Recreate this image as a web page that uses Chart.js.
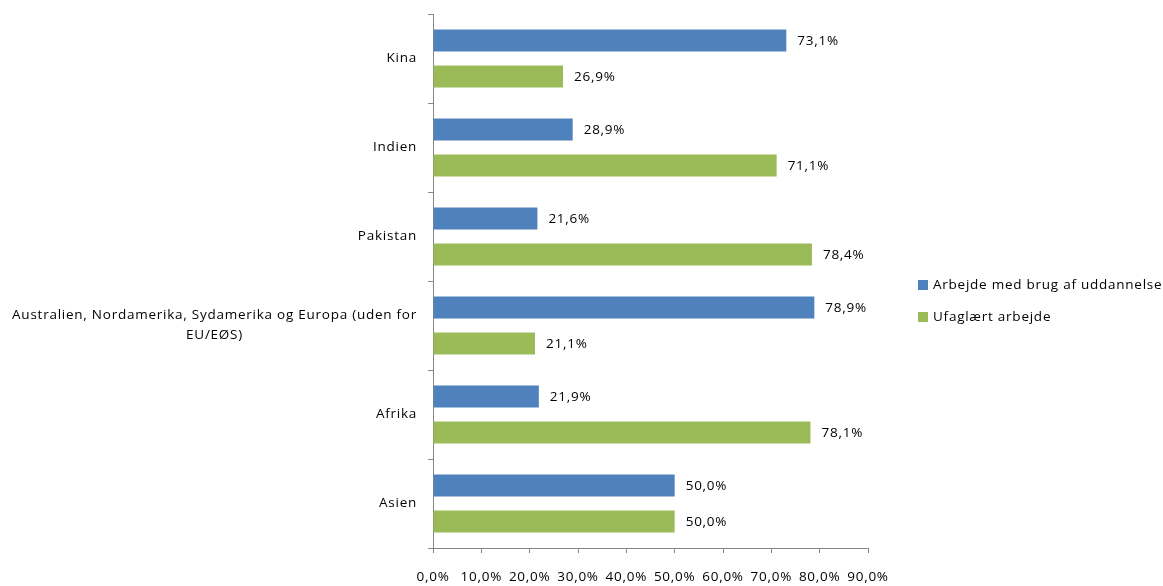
<!DOCTYPE html>
<html>
<head>
<meta charset="utf-8">
<script src="https://cdn.jsdelivr.net/npm/chart.js@4.4.1/dist/chart.umd.min.js"></script>
<style>
  html, body { margin: 0; padding: 0; background: #fff; }
  #wrap { width: 1163px; height: 586px; }
</style>
</head>
<body>
<div id="wrap"><canvas id="grafUdd"></canvas></div>
<script>
// kategorier og værdier
const kategorier = [
    ["Kina"],
    ["Indien"],
    ["Pakistan"],
    ["Australien, Nordamerika, Sydamerika og Europa (uden for", "EU/EØS)"],
    ["Afrika"],
    ["Asien"]
];
const serieNavne = ["Arbejde med brug af uddannelse", "Ufaglært arbejde"];
const medUdd = [73.1, 28.9, 21.6, 78.9, 21.9, 50.0];
const ufaglaert = [26.9, 71.1, 78.4, 21.1, 78.1, 50.0];
const farver = ["#4F81BD", "#9BBB59"];
const xMax = 90;
const xStep = 10;

const fontNavn = "'Open Sans', sans-serif";
const fontStr = 13.5;
const spacing = "0.75px";
const axisFarve = "#868686";

function fmtPct(v) {
    return v.toFixed(1).replace(".", ",") + "%";
}

// tegner y-labels, værdi-labels og legenden
const tekstPlugin = {
    id: "tekstPlugin",
    beforeDraw(chart) {
        // lidt bredere tekst, som i originalen
        chart.ctx.letterSpacing = spacing;
    },
    afterDraw(chart) {
        const ctx = chart.ctx;
        const yScale = chart.scales.y;
        const area = chart.chartArea;
        ctx.save();
        ctx.letterSpacing = spacing;
        ctx.font = fontStr + "px " + fontNavn;
        ctx.fillStyle = "#000";
        ctx.textBaseline = "middle";

        // kategori-labels (flere linjer centreres inden for blokken)
        const lh = 20;
        for (let i = 0; i < kategorier.length; i++) {
            const lines = kategorier[i];
            const yc = yScale.getPixelForValue(i);
            let maxW = 0;
            lines.forEach(l => { maxW = Math.max(maxW, ctx.measureText(l).width); });
            const right = area.left - 16;
            const cx = right - maxW / 2;
            ctx.textAlign = "center";
            for (let k = 0; k < lines.length; k++) {
                ctx.fillText(lines[k], cx, yc + (k - (lines.length - 1) / 2) * lh);
            }
        }

        // værdi-labels ved enden af hver bjælke
        ctx.textAlign = "left";
        chart.data.datasets.forEach((ds, di) => {
            const meta = chart.getDatasetMeta(di);
            meta.data.forEach((bar, j) => {
                ctx.fillText(fmtPct(ds.data[j]), bar.x + 11, bar.y + 1);
            });
        });

        // legende til højre
        const lx = area.right + 50;
        const ly0 = (area.top + area.bottom) / 2 + 20;
        serieNavne.forEach((n, i) => {
            const ly = ly0 + (i - 0.5) * 32;
            ctx.fillStyle = farver[i];
            ctx.fillRect(lx, ly - 5, 10, 10);
            ctx.fillStyle = "#000";
            ctx.fillText(n, lx + 15, ly);
        });
        ctx.restore();
    }
};

const grafUdd = document.getElementById("grafUdd").getContext("2d");
let config_grafUdd = {
    type: "bar",
    data: {
        labels: kategorier.map(k => k.join(" ")),
        datasets: [{
            label: serieNavne[0],
            backgroundColor: farver[0],
            data: medUdd
        }, {
            label: serieNavne[1],
            backgroundColor: farver[1],
            data: ufaglaert
        }]
    },
    options: {
        indexAxis: "y",
        responsive: true,
        maintainAspectRatio: false,
        animation: false,
        categoryPercentage: 0.81,
        barPercentage: 0.61,
        layout: {
            padding: { top: 14, right: 295, left: 0, bottom: 0 }
        },
        scales: {
            x: {
                min: 0,
                max: xMax,
                afterFit: function(s) { s.height = 38; },
                border: { color: axisFarve, width: 1 },
                grid: {
                    drawOnChartArea: false,
                    drawTicks: true,
                    tickLength: 5,
                    color: axisFarve
                },
                ticks: {
                    stepSize: xStep,
                    padding: 16,
                    maxRotation: 0,
                    color: "#000",
                    font: { size: fontStr, family: fontNavn },
                    callback: v => fmtPct(v)
                }
            },
            y: {
                afterFit: function(s) { s.width = 433; },
                border: { color: axisFarve, width: 1 },
                grid: {
                    offset: true,
                    drawOnChartArea: false,
                    drawTicks: true,
                    tickLength: 5,
                    color: axisFarve
                },
                ticks: {
                    callback: () => ""
                }
            }
        },
        plugins: {
            legend: { display: false },
            tooltip: { enabled: false }
        }
    },
    plugins: [tekstPlugin]
};
const grafUddChart = new Chart(grafUdd, config_grafUdd);
</script>
</body>
</html>
